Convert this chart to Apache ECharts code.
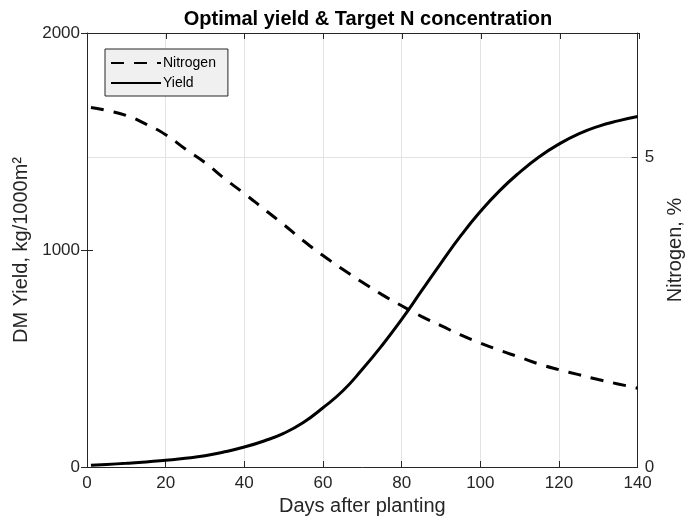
<!DOCTYPE html>
<html>
<head>
<meta charset="utf-8">
<script src="https://cdn.jsdelivr.net/npm/echarts@6/dist/echarts.min.js"></script>
<style>html,body{margin:0;padding:0;background:#fff}#c{width:693px;height:525px}</style>
</head>
<body>
<div id="c"></div>
<script>
var days = [1, 5, 10, 15, 20, 25, 30, 35, 40, 45, 50, 55, 60, 65, 70, 75, 80, 85, 90, 95, 100, 105, 110, 115, 120, 125, 130, 135, 140];
var nitrogen = [5.80, 5.75, 5.67, 5.53, 5.36, 5.13, 4.91, 4.65, 4.41, 4.16, 3.91, 3.65, 3.41, 3.19, 2.98, 2.78, 2.60, 2.43, 2.28, 2.13, 2.00, 1.88, 1.77, 1.66, 1.57, 1.49, 1.41, 1.34, 1.27];
var yieldDM = [8, 12, 17, 23, 31, 40, 52, 70, 92, 120, 155, 205, 273, 350, 450, 560, 680, 810, 940, 1065, 1177, 1275, 1358, 1430, 1488, 1535, 1570, 1595, 1615];
var xTicks = [0, 20, 40, 60, 80, 100, 120, 140];
var yLeftTicks = [0, 1000, 2000];
var yRightTicks = [0, 5];

var FONT = 'Liberation Sans, Arial, Helvetica, sans-serif';
var AX = '#262626';
var GRID = { left: 87, right: 54, top: 33, bottom: 58, containLabel: false };
function pairs(xs, ys) { return xs.map(function (x, i) { return [x, ys[i]]; }); }
function tickFmt(list) { return function (v) { return list.indexOf(v) >= 0 ? String(v) : ''; }; }
var tick = { show: true, inside: true, length: 6, lineStyle: { color: AX, width: 1 } };
var line = { show: true, onZero: false, lineStyle: { color: AX, width: 1 } };

var chart = echarts.init(document.getElementById('c'), null, { renderer: 'canvas' });
chart.setOption({
  backgroundColor: '#ffffff',
  animation: false,
  title: {
    text: 'Optimal yield & Target N concentration',
    left: 363, top: 4, textAlign: 'center',
    textStyle: { fontFamily: FONT, fontSize: 20, fontWeight: 'bold', color: '#000' }
  },
  legend: {
    orient: 'vertical', left: 105, top: 49,
    padding: [7, 12, 6, 5], itemGap: 6,
    itemWidth: 50, itemHeight: 14,
    backgroundColor: '#f0f0f0', borderColor: '#262626', borderWidth: 1, borderRadius: 0,
    itemStyle: { opacity: 0 },
    textStyle: { fontFamily: FONT, fontSize: 14, color: '#000', padding: [0, 0, 0, -3] },
    data: ['Nitrogen', 'Yield']
  },
  grid: [GRID, GRID],
  xAxis: [{
    gridIndex: 0, type: 'value', min: 0, max: 140, interval: 20, position: 'bottom',
    name: 'Days after planting', nameLocation: 'middle', nameGap: 29,
    nameTextStyle: { fontFamily: FONT, fontSize: 20, color: AX },
    axisLine: line, axisTick: tick,
    axisLabel: { fontFamily: FONT, fontSize: 17, color: AX, margin: 8, formatter: tickFmt(xTicks) },
    splitLine: { show: true, lineStyle: { color: '#e3e3e3', width: 1 } }
  }, {
    gridIndex: 1, type: 'value', min: 0, max: 140, interval: 20, position: 'top',
    axisLine: line, axisTick: tick,
    axisLabel: { show: false }, splitLine: { show: false }
  }],
  yAxis: [{
    gridIndex: 0, type: 'value', min: 0, max: 2000, interval: 1000, position: 'left',
    name: 'DM Yield, kg/1000m²', nameLocation: 'middle', nameGap: 50, nameRotate: 90,
    nameTextStyle: { fontFamily: FONT, fontSize: 20, color: AX },
    axisLine: line, axisTick: tick,
    axisLabel: { fontFamily: FONT, fontSize: 17, color: AX, margin: 7, formatter: tickFmt(yLeftTicks) },
    splitLine: { show: false }
  }, {
    gridIndex: 0, type: 'value', min: 0, max: 7, interval: 5, position: 'right',
    name: 'Nitrogen, %', nameLocation: 'middle', nameGap: 25, nameRotate: 90,
    nameTextStyle: { fontFamily: FONT, fontSize: 20, color: AX },
    axisLine: line, axisTick: tick,
    axisLabel: { fontFamily: FONT, fontSize: 17, color: AX, margin: 7, formatter: tickFmt(yRightTicks) },
    splitLine: { show: true, lineStyle: { color: '#e3e3e3', width: 1 } }
  }, {
    gridIndex: 1, type: 'value', min: 0, max: 2000, interval: 1000, position: 'right',
    axisLine: { show: false }, axisTick: tick,
    axisLabel: { show: false }, splitLine: { show: false }
  }],
  series: [{
    name: 'Nitrogen', type: 'line', xAxisIndex: 0, yAxisIndex: 1,
    data: pairs(days, nitrogen), smooth: true, symbol: 'none',
    lineStyle: { color: '#000', width: 3, type: [13, 10] },
    itemStyle: { color: '#000' }, z: 3
  }, {
    name: 'Yield', type: 'line', xAxisIndex: 0, yAxisIndex: 0,
    data: pairs(days, yieldDM), smooth: true, symbol: 'none',
    lineStyle: { color: '#000', width: 3, type: 'solid' },
    itemStyle: { color: '#000' }, z: 3
  }]
});
</script>
</body>
</html>
